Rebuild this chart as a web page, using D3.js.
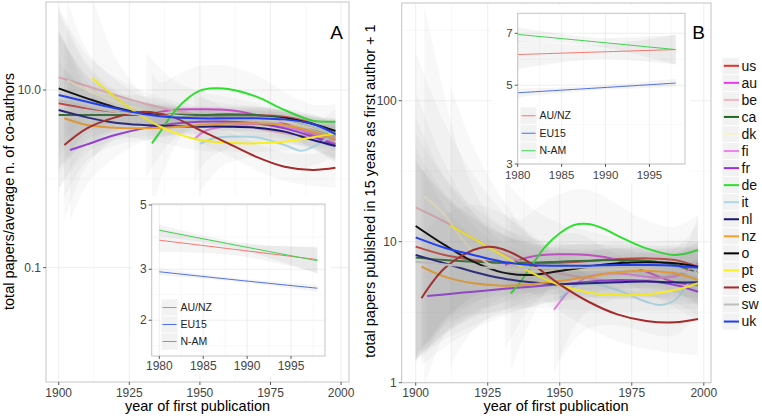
<!DOCTYPE html>
<html><head><meta charset="utf-8">
<script src="https://cdn.jsdelivr.net/npm/d3@7"></script>
<style>
body{margin:0;background:#fff}
text{font-family:"Liberation Sans",Arial,Helvetica,sans-serif}
</style></head>
<body><svg id="c" width="762" height="416"></svg>
<script>
// ---------------- DATA ----------------
const countries = ["us","au","be","ca","dk","fi","fr","de","it","nl","nz","o","pt","es","sw","uk"];
const countryColors = ["#E5332A","#E83AE8","#F4B6C2","#1E6B1E","#F8F2D0","#EE82EE","#9A32E6","#2EE02E","#ADD8E6","#14147A","#F5A02A","#000000","#F8F020","#A52A2A","#BEBEBE","#2040F0"];

// Panel A: [year, fitted value, log10 half-width of confidence band]
const A_us = [[1900,7.08,0.8],[1910,6.22,0.35],[1920,5.70,0.2],[1930,5.46,0.13],[1940,5.32,0.1],[1950,5.23,0.09],[1960,5.23,0.09],[1970,5.23,0.09],[1980,5.01,0.09],[1990,4.21,0.1],[1998,3.11,0.14]];
const A_au = [[1931,5.23,0.7],[1940,5.95,0.35],[1950,6.06,0.2],[1960,5.95,0.15],[1970,5.23,0.13],[1980,4.21,0.13],[1990,3.11,0.15],[1998,2.47,0.2]];
const A_be = [[1900,13.9,0.8],[1910,11.09,0.35],[1920,8.78,0.2],[1930,7.08,0.14],[1940,5.95,0.11],[1950,5.23,0.1],[1960,4.40,0.1],[1970,3.70,0.1],[1980,3.25,0.1],[1990,2.98,0.12],[1998,2.98,0.16]];
const A_ca = [[1900,5.23,0.6],[1910,5.23,0.3],[1920,5.23,0.18],[1930,5.23,0.12],[1940,5.23,0.1],[1950,5.23,0.09],[1960,5.32,0.09],[1970,5.23,0.09],[1980,4.80,0.09],[1990,3.70,0.1],[1998,3.10,0.14]];
const A_dk = [[1903,12.9,0.9],[1910,10.0,0.45],[1920,7.39,0.25],[1930,5.95,0.15],[1940,5.23,0.12],[1950,4.92,0.1],[1960,4.80,0.1],[1970,4.67,0.1],[1980,4.40,0.1],[1990,3.70,0.12],[1998,3.11,0.16]];
const A_fi = [[1948,2.78,0.5],[1952,3.48,0.35],[1960,3.93,0.25],[1970,4.14,0.2],[1980,3.80,0.18],[1990,3.25,0.18],[1998,2.73,0.25]];
const A_fr = [[1904,2.11,0.8],[1910,2.44,0.45],[1920,3.11,0.25],[1930,3.70,0.15],[1940,4.14,0.12],[1950,4.40,0.1],[1960,4.40,0.1],[1970,4.21,0.1],[1980,3.70,0.1],[1990,2.98,0.12],[1998,2.36,0.16]];
const A_de = [[1933,2.51,0.8],[1936,3.40,0.55],[1940,5.23,0.42],[1945,7.72,0.33],[1950,9.83,0.28],[1955,10.44,0.26],[1960,10.26,0.26],[1970,8.41,0.24],[1980,5.95,0.2],[1990,4.51,0.18],[1998,4.40,0.2]];
const A_it = [[1950,2.47,0.55],[1955,2.86,0.4],[1960,2.98,0.3],[1970,2.93,0.22],[1980,2.40,0.2],[1986,2.07,0.2],[1992,2.47,0.22],[1998,3.31,0.28]];
const A_nl = [[1900,5.95,0.9],[1910,4.92,0.4],[1920,4.29,0.2],[1930,4.04,0.13],[1940,3.93,0.1],[1950,3.87,0.09],[1960,3.87,0.09],[1970,3.77,0.09],[1980,3.40,0.09],[1990,2.73,0.1],[1998,2.34,0.14]];
const A_nz = [[1902,4.80,0.9],[1910,4.04,0.4],[1920,3.77,0.2],[1930,3.70,0.13],[1940,3.80,0.1],[1950,4.04,0.09],[1960,4.21,0.09],[1970,4.21,0.09],[1980,4.04,0.09],[1990,3.40,0.1],[1998,2.78,0.14]];
const A_o  = [[1900,10.44,0.9],[1910,8.06,0.4],[1920,6.38,0.2],[1930,5.46,0.13],[1940,5.01,0.1],[1950,4.92,0.09],[1960,4.92,0.09],[1970,4.92,0.09],[1980,4.80,0.09],[1990,4.14,0.1],[1998,3.45,0.14]];
const A_pt = [[1912,13.53,0.9],[1920,8.27,0.45],[1930,4.92,0.25],[1940,3.40,0.15],[1950,2.73,0.12],[1960,2.55,0.1],[1970,2.51,0.1],[1980,2.62,0.1],[1990,2.93,0.11],[1998,3.25,0.14]];
const A_es = [[1902,2.40,0.85],[1910,3.70,0.42],[1920,4.92,0.25],[1930,5.70,0.18],[1940,5.01,0.15],[1950,3.54,0.14],[1960,2.51,0.14],[1970,1.77,0.15],[1980,1.37,0.16],[1990,1.26,0.18],[1998,1.33,0.22]];
const A_sw = [[1900,7.72,1.0],[1910,6.49,0.45],[1920,5.70,0.22],[1930,5.23,0.14],[1940,5.01,0.11],[1950,4.92,0.1],[1960,4.92,0.1],[1970,4.92,0.1],[1980,4.67,0.1],[1990,3.87,0.11],[1998,3.25,0.15]];
const A_uk = [[1900,8.78,0.7],[1910,7.39,0.3],[1920,6.22,0.17],[1930,5.37,0.11],[1940,4.92,0.09],[1950,4.80,0.08],[1960,4.80,0.08],[1970,4.80,0.08],[1980,4.67,0.08],[1990,4.14,0.09],[1998,3.19,0.12]];

// Panel B
const B_us = [[1900,9.22,0.8],[1910,8.05,0.55],[1920,7.42,0.38],[1930,7.10,0.25],[1940,7.03,0.18],[1950,7.10,0.14],[1960,7.30,0.12],[1970,7.54,0.12],[1980,7.62,0.12],[1990,7.42,0.14],[1998,6.65,0.18]];
const B_au = [[1931,6.83,0.6],[1940,7.83,0.35],[1950,8.14,0.22],[1960,8.05,0.17],[1970,7.42,0.15],[1980,6.13,0.15],[1990,5.15,0.18],[1998,4.93,0.25]];
const B_be = [[1900,17.52,1.1],[1910,13.87,0.7],[1920,10.56,0.45],[1930,8.27,0.3],[1940,6.83,0.2],[1950,5.97,0.15],[1960,5.50,0.13],[1970,5.26,0.13],[1980,5.35,0.13],[1990,5.80,0.15],[1998,6.30,0.2]];
const B_ca = [[1900,7.71,0.7],[1910,7.42,0.45],[1920,7.22,0.3],[1930,7.10,0.2],[1940,7.10,0.14],[1950,7.22,0.12],[1960,7.34,0.11],[1970,7.42,0.11],[1980,7.34,0.11],[1990,6.83,0.13],[1998,5.97,0.17]];
const B_dk = [[1903,20.9,1.35],[1910,15.5,0.85],[1915,11.16,0.6],[1920,8.50,0.45],[1925,7.03,0.35],[1930,6.47,0.3],[1940,6.20,0.2],[1950,6.20,0.16],[1960,6.30,0.14],[1970,6.40,0.14],[1980,6.47,0.14],[1990,6.30,0.16],[1998,5.97,0.2]];
const B_fi = [[1948,3.28,0.45],[1952,4.19,0.35],[1956,5.07,0.28],[1960,5.65,0.24],[1970,5.97,0.18],[1980,5.65,0.17],[1990,5.65,0.2],[1998,7.03,0.28]];
const B_fr = [[1904,4.12,0.4],[1910,4.23,0.32],[1920,4.42,0.24],[1930,4.62,0.18],[1940,4.80,0.14],[1950,4.98,0.12],[1960,5.21,0.11],[1970,5.35,0.11],[1980,5.26,0.11],[1990,4.93,0.13],[1998,4.42,0.17]];
const B_de = [[1933,4.30,0.55],[1936,5.07,0.45],[1940,6.65,0.38],[1945,9.22,0.32],[1950,11.47,0.28],[1955,13.14,0.25],[1960,13.36,0.24],[1965,12.44,0.23],[1970,11.04,0.22],[1980,8.97,0.2],[1990,8.05,0.2],[1998,8.73,0.25]];
const B_it = [[1950,3.97,0.45],[1955,4.80,0.38],[1960,5.07,0.32],[1970,4.54,0.25],[1980,3.75,0.22],[1985,3.56,0.22],[1990,3.86,0.25],[1995,5.21,0.3],[1998,6.83,0.36]];
const B_nl = [[1900,8.05,0.75],[1910,7.03,0.5],[1920,6.13,0.33],[1930,5.50,0.22],[1940,5.15,0.15],[1950,5.01,0.12],[1960,5.07,0.11],[1970,5.15,0.11],[1980,5.21,0.11],[1990,5.15,0.12],[1998,5.15,0.16]];
const B_nz = [[1902,6.65,0.7],[1910,5.65,0.5],[1920,5.07,0.33],[1930,4.88,0.22],[1940,4.98,0.16],[1950,5.26,0.13],[1960,5.65,0.12],[1970,6.06,0.12],[1980,6.20,0.12],[1990,5.97,0.14],[1998,5.35,0.18]];
const B_o  = [[1900,12.92,0.95],[1910,9.48,0.58],[1920,7.22,0.35],[1930,6.06,0.22],[1940,5.80,0.15],[1950,6.20,0.12],[1960,6.65,0.11],[1970,7.03,0.11],[1980,7.14,0.11],[1990,7.03,0.13],[1998,6.65,0.17]];
const B_pt = [[1912,13.07,1.0],[1920,10.56,0.65],[1930,8.05,0.4],[1940,6.06,0.25],[1950,4.93,0.17],[1960,4.37,0.13],[1970,4.19,0.12],[1980,4.23,0.12],[1990,4.54,0.14],[1998,5.07,0.18]];
const B_es = [[1902,3.97,0.45],[1910,6.47,0.38],[1920,8.73,0.32],[1925,9.22,0.28],[1930,8.88,0.25],[1940,7.03,0.21],[1950,4.98,0.19],[1960,3.75,0.19],[1970,3.05,0.19],[1980,2.74,0.2],[1990,2.68,0.22],[1998,2.83,0.26]];
const B_sw = [[1900,7.22,0.7],[1910,6.90,0.5],[1920,6.65,0.35],[1930,6.50,0.24],[1940,6.50,0.17],[1950,6.50,0.14],[1960,6.60,0.13],[1970,6.70,0.13],[1980,6.60,0.13],[1990,6.30,0.15],[1998,5.80,0.2]];
const B_uk = [[1900,10.74,0.85],[1910,9.07,0.5],[1920,8.05,0.3],[1930,7.22,0.2],[1940,6.83,0.13],[1950,6.76,0.1],[1960,6.76,0.09],[1970,6.83,0.09],[1980,6.83,0.09],[1990,6.76,0.1],[1998,6.54,0.14]];

// Insets (regions)
const regions = ["AU/NZ","EU15","N-AM"];
const regionColors = ["#F8766D","#4F6FE8","#3FD24F"];
const insA_aunz = [[1980,3.78,0.041],[1989,3.50,0.02],[1998,3.24,0.045]];
const insA_eu15 = [[1980,2.94,0.012],[1989,2.75,0.006],[1998,2.58,0.012]];
const insA_nam  = [[1980,4.09,0.02],[1989,3.62,0.012],[1998,3.21,0.045]];
const insB_aunz = [[1980,6.10,0.04],[1989,6.20,0.02],[1998,6.30,0.042]];
const insB_eu15 = [[1980,4.76,0.012],[1989,4.91,0.006],[1998,5.07,0.012]];
const insB_nam  = [[1980,6.95,0.02],[1989,6.62,0.012],[1998,6.30,0.042]];

// Tick labels
const xTicksMain = [1900,1925,1950,1975,2000];
const xMinorMain = [1912.5,1937.5,1962.5,1987.5];
const yTicksA = [0.1,10]; const yLabelsA = ["0.1","10.0"]; const yMinorA = [1];
const yTicksB = [1,10,100]; const yLabelsB = ["1","10","100"]; const yMinorB = [3.1623,31.623,316.23];
const xTicksInset = [1980,1985,1990,1995];
const xMinorInset = [1982.5,1987.5,1992.5,1997.5];
const yTicksInsA = [2,3,5]; const yMinorInsA = [1.633,2.449,3.873];
const yTicksInsB = [3,5,7]; const yMinorInsB = [3.873,5.916];

// ---------------- DRAW ----------------
const svg = d3.select("#c");
svg.append("rect").attr("width",762).attr("height",416).attr("fill","#fff");
const defs = svg.append("defs");

function drawSeries(g, data, x, y, color, lw, fillOp) {
  const area = d3.area()
    .x(d=>x(d[0]))
    .y0(d=>y(d[1]/Math.pow(10,d[2])))
    .y1(d=>y(d[1]*Math.pow(10,d[2])))
    .curve(d3.curveCatmullRom.alpha(0.5));
  g.append("path").attr("d",area(data)).attr("fill","#858585").attr("fill-opacity",fillOp).attr("stroke","none");
  const line = d3.line().x(d=>x(d[0])).y(d=>y(d[1])).curve(d3.curveCatmullRom.alpha(0.5));
  g.append("path").attr("d",line(data)).attr("fill","none").attr("stroke",color)
    .attr("stroke-width",lw).attr("stroke-linecap","butt");
}

function drawPanel(cfg) {
  const x = d3.scaleLinear().domain(cfg.xd).range([cfg.x0,cfg.x1]);
  const y = d3.scaleLog().domain(cfg.yd).range([cfg.y1,cfg.y0]);
  const g = svg.append("g");
  if (cfg.bg) g.append("rect").attr("x",cfg.bg[0]).attr("y",cfg.bg[1])
     .attr("width",cfg.bg[2]-cfg.bg[0]).attr("height",cfg.bg[3]-cfg.bg[1]).attr("fill","#fff");
  g.append("rect").attr("x",cfg.x0).attr("y",cfg.y0).attr("width",cfg.x1-cfg.x0).attr("height",cfg.y1-cfg.y0).attr("fill","#fff");
  const gridMinor = "#F4F4F4", gridMajor = "#EAEAEA";
  cfg.xMinor.forEach(v=>{ const px=x(v); if(px>cfg.x0&&px<cfg.x1) g.append("line").attr("x1",px).attr("x2",px).attr("y1",cfg.y0).attr("y2",cfg.y1).attr("stroke",gridMinor).attr("stroke-width",0.6);});
  cfg.yMinor.forEach(v=>{ const py=y(v); if(py>cfg.y0&&py<cfg.y1) g.append("line").attr("y1",py).attr("y2",py).attr("x1",cfg.x0).attr("x2",cfg.x1).attr("stroke",gridMinor).attr("stroke-width",0.6);});
  cfg.xMajor.forEach(v=>{ const px=x(v); g.append("line").attr("x1",px).attr("x2",px).attr("y1",cfg.y0).attr("y2",cfg.y1).attr("stroke",gridMajor).attr("stroke-width",0.8);});
  cfg.yMajor.forEach(v=>{ const py=y(v); g.append("line").attr("y1",py).attr("y2",py).attr("x1",cfg.x0).attr("x2",cfg.x1).attr("stroke",gridMajor).attr("stroke-width",0.8);});
  defs.append("clipPath").attr("id",cfg.id).append("rect").attr("x",cfg.x0).attr("y",cfg.y0).attr("width",cfg.x1-cfg.x0).attr("height",cfg.y1-cfg.y0);
  const pg = g.append("g").attr("clip-path",`url(#${cfg.id})`);
  cfg.series.forEach((s,i)=>drawSeries(pg,s,x,y,cfg.colors[i],cfg.lw,cfg.op));
  g.append("rect").attr("x",cfg.x0).attr("y",cfg.y0).attr("width",cfg.x1-cfg.x0).attr("height",cfg.y1-cfg.y0)
    .attr("fill","none").attr("stroke","#C4C4C4").attr("stroke-width",1);
  cfg.xMajor.forEach(v=>{
    const px=x(v);
    g.append("line").attr("x1",px).attr("x2",px).attr("y1",cfg.y1).attr("y2",cfg.y1+3).attr("stroke","#333").attr("stroke-width",0.8);
    g.append("text").attr("x",px).attr("y",cfg.y1+cfg.xLabDy).attr("text-anchor","middle").attr("font-size",cfg.fs).attr("fill","#444").text(v);
  });
  cfg.yMajor.forEach((v,i)=>{
    const py=y(v);
    g.append("line").attr("x1",cfg.x0-3).attr("x2",cfg.x0).attr("y1",py).attr("y2",py).attr("stroke","#333").attr("stroke-width",0.8);
    g.append("text").attr("x",cfg.x0-5).attr("y",py+cfg.fs*0.33).attr("text-anchor","end").attr("font-size",cfg.fs).attr("fill","#444").text(cfg.yLabels[i]);
  });
  return {x,y,g};
}

drawPanel({id:"clipA",x0:46,x1:349,y0:2,y1:382,xd:[1895.5,2002.8],yd:[0.00516,97.9],fs:12,
  xMajor:xTicksMain,xMinor:xMinorMain,yMajor:yTicksA,yMinor:yMinorA,yLabels:yLabelsA,xLabDy:14.5,
  series:[A_us,A_au,A_be,A_ca,A_dk,A_fi,A_fr,A_de,A_it,A_nl,A_nz,A_o,A_pt,A_es,A_sw,A_uk],
  colors:countryColors,lw:2,op:0.055});
drawPanel({id:"clipB",x0:401.7,x1:711,y0:3,y1:382.7,xd:[1895.14,2002.5],yd:[1,493],fs:12,
  xMajor:xTicksMain,xMinor:xMinorMain,yMajor:yTicksB,yMinor:yMinorB,yLabels:yLabelsB,xLabDy:13.8,
  series:[B_us,B_au,B_be,B_ca,B_dk,B_fi,B_fr,B_de,B_it,B_nl,B_nz,B_o,B_pt,B_es,B_sw,B_uk],
  colors:countryColors,lw:2,op:0.055});

drawPanel({id:"clipIA",x0:151.7,x1:325,y0:204,y1:356,xd:[1979.13,1998.87],yd:[1.505,5.04],fs:12,
  bg:[132,196,331,376],
  xMajor:xTicksInset,xMinor:xMinorInset,yMajor:yTicksInsA,yMinor:yMinorInsA,yLabels:yTicksInsA.map(String),xLabDy:14,
  series:[insA_aunz,insA_eu15,insA_nam],colors:regionColors,lw:1,op:0.09});
drawPanel({id:"clipIB",x0:517.7,x1:685,y0:13.3,y1:164,xd:[1980,1999.05],yd:[3,7.97],fs:11.5,
  bg:[492,5,690,183],
  xMajor:xTicksInset,xMinor:xMinorInset,yMajor:yTicksInsB,yMinor:yMinorInsB,yLabels:yTicksInsB.map(String),xLabDy:14.5,
  series:[insB_aunz,insB_eu15,insB_nam],colors:regionColors,lw:1,op:0.09});

function insetLegend(lx, ly, kh) {
  regions.forEach((r,i)=>{
    const ky = ly + i*kh;
    svg.append("rect").attr("x",lx).attr("y",ky).attr("width",17).attr("height",kh).attr("fill","#F2F2F2").attr("stroke","#fff").attr("stroke-width",0.8);
    svg.append("line").attr("x1",lx+1.5).attr("x2",lx+15.5).attr("y1",ky+kh/2).attr("y2",ky+kh/2).attr("stroke",regionColors[i]).attr("stroke-width",1);
    svg.append("text").attr("x",lx+19.5).attr("y",ky+kh/2+3.7).attr("font-size",10.5).attr("fill","#222").text(r);
  });
}
insetLegend(161,299,17);
insetLegend(520,107,17.5);

countries.forEach((c,i)=>{
  const ky = 57.3 + i*17.05;
  svg.append("rect").attr("x",722).attr("y",ky).attr("width",17.5).attr("height",17.05).attr("fill","#F2F2F2").attr("stroke","#fff").attr("stroke-width",0.8);
  svg.append("line").attr("x1",723.8).attr("x2",739).attr("y1",ky+8.5).attr("y2",ky+8.5).attr("stroke",countryColors[i]).attr("stroke-width",2);
  svg.append("text").attr("x",741.5).attr("y",ky+13.2).attr("font-size",14).attr("fill","#111").text(c);
});

svg.append("text").attr("x",336.5).attr("y",38.5).attr("text-anchor","middle").attr("font-size",19).text("A");
svg.append("text").attr("x",698.5).attr("y",38.5).attr("text-anchor","middle").attr("font-size",19).text("B");

svg.append("text").attr("x",197.5).attr("y",411).attr("text-anchor","middle").attr("font-size",14.5).text("year of first publication");
svg.append("text").attr("x",556).attr("y",411).attr("text-anchor","middle").attr("font-size",14.5).text("year of first publication");
svg.append("text").attr("transform","translate(14,191.5) rotate(-90)").attr("text-anchor","middle").attr("font-size",14.5).text("total papers/average n. of co-authors");
svg.append("text").attr("transform","translate(375,191) rotate(-90)").attr("text-anchor","middle").attr("font-size",14.5).text("total papers published in 15 years as first author + 1");
</script></body></html>
